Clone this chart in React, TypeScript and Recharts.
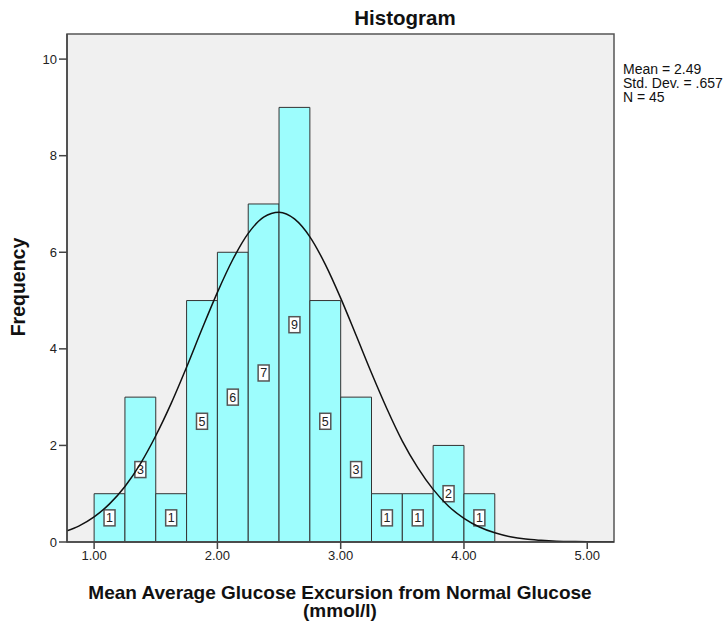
import { ComposedChart, Line, XAxis, YAxis, CartesianGrid, ReferenceArea } from "recharts";

// histogram bins (lower edge, count)
const binStarts = [1.0, 1.25, 1.5, 1.75, 2.0, 2.25, 2.5, 2.75, 3.0, 3.25, 3.5, 3.75, 4.0];
const binWidth = 0.25;
const counts = [1, 3, 1, 5, 6, 7, 9, 5, 3, 1, 1, 2, 1];

// normal curve
const curveX = [
  0.78, 0.875, 1.0, 1.125, 1.25, 1.375, 1.5, 1.625, 1.75, 1.875, 2.0, 2.125, 2.25, 2.375, 2.5,
  2.625, 2.75, 2.875, 3.0, 3.125, 3.25, 3.375, 3.5, 3.625, 3.75, 3.875, 4.0, 4.125, 4.25, 4.375,
  4.5, 4.625, 4.75, 4.875, 5.0, 5.125, 5.217,
];
const curveY = [
  0.23, 0.33, 0.52, 0.79, 1.15, 1.62, 2.2, 2.87, 3.62, 4.41, 5.17, 5.85, 6.39, 6.73, 6.83,
  6.69, 6.32, 5.75, 5.05, 4.28, 3.5, 2.76, 2.09, 1.54, 1.09, 0.74, 0.49, 0.31, 0.19, 0.11,
  0.06, 0.035, 0.018, 0.009, 0.005, 0.002, 0.001,
];

const xTicks = [1, 2, 3, 4, 5];
const yTicks = [0, 2, 4, 6, 8, 10];
const stats = ["Mean = 2.49", "Std. Dev. = .657", "N = 45"];

const X_MIN = 0.78;
const X_MAX = 5.217;
const Y_MAX = 10.52;

const curveData = curveX.map((x, i) => ({ x, y: curveY[i] }));

const FONT = "'Liberation Sans', Arial, sans-serif";

const CountLabel = (props: any) => {
  const { viewBox, value } = props;
  const cx = viewBox.x + viewBox.width / 2;
  const cy = viewBox.y + viewBox.height / 2;
  return (
    <g>
      <rect x={cx - 5.5} y={cy - 8} width={11} height={16} fill="#fff" stroke="#555" strokeWidth={1.5} />
      <text x={cx} y={cy + 4.5} textAnchor="middle" fontSize={12.5} fontFamily={FONT} fill="#222">
        {value}
      </text>
    </g>
  );
};

export default function App() {
  return (
    <div style={{ position: "absolute", left: 0, top: 0, width: 726, height: 623, background: "#fff" }}>
      <ComposedChart
        width={726}
        height={623}
        data={curveData}
        margin={{ top: 34, right: 112, bottom: 51, left: 37 }}
      >
        <CartesianGrid fill="#F0F0F0" horizontal={false} vertical={false} />
        <XAxis
          type="number"
          dataKey="x"
          domain={[X_MIN, X_MAX]}
          allowDataOverflow
          ticks={xTicks}
          tickFormatter={(v) => v.toFixed(2)}
          height={30}
          stroke="#444"
          strokeWidth={1.5}
          tickSize={7}
          tick={{ fill: "#222", fontSize: 13, fontFamily: FONT }}
        />
        <YAxis
          type="number"
          domain={[0, Y_MAX]}
          allowDataOverflow
          ticks={yTicks}
          width={30}
          stroke="#444"
          strokeWidth={1.5}
          tickSize={8}
          tick={{ fill: "#222", fontSize: 13, fontFamily: FONT }}
        />
        {binStarts.map((s, i) => (
          <ReferenceArea
            key={s}
            x1={s}
            x2={s + binWidth}
            y1={0}
            y2={counts[i]}
            fill="#9DFDFD"
            fillOpacity={1}
            stroke="#333"
            strokeWidth={1}
            label={<CountLabel value={counts[i]} />}
          />
        ))}
        <Line
          type="monotone"
          dataKey="y"
          stroke="#111"
          strokeWidth={1.5}
          dot={false}
          activeDot={false}
          isAnimationActive={false}
        />
        <ReferenceArea
          x1={X_MIN}
          x2={X_MAX}
          y1={0}
          y2={Y_MAX}
          fill="none"
          stroke="#555"
          strokeWidth={1.5}
        />
        <text x={405} y={25} textAnchor="middle" fontSize={20.5} fontWeight="bold" fontFamily={FONT} fill="#111">
          Histogram
        </text>
        {stats.map((s, i) => (
          <text key={s} x={623} y={74 + i * 14} fontSize={14} fontFamily={FONT} fill="#111">
            {s}
          </text>
        ))}
        <text
          x={25}
          y={287}
          transform="rotate(-90 25 287)"
          textAnchor="middle"
          fontSize={19.5}
          fontWeight="bold"
          fontFamily={FONT}
          fill="#111"
        >
          Frequency
        </text>
        <text x={340} y={599} textAnchor="middle" fontSize={19} fontWeight="bold" fontFamily={FONT} fill="#111">
          Mean Average Glucose Excursion from Normal Glucose
        </text>
        <text x={340} y={617} textAnchor="middle" fontSize={19} fontWeight="bold" fontFamily={FONT} fill="#111">
          (mmol/l)
        </text>
      </ComposedChart>
    </div>
  );
}
